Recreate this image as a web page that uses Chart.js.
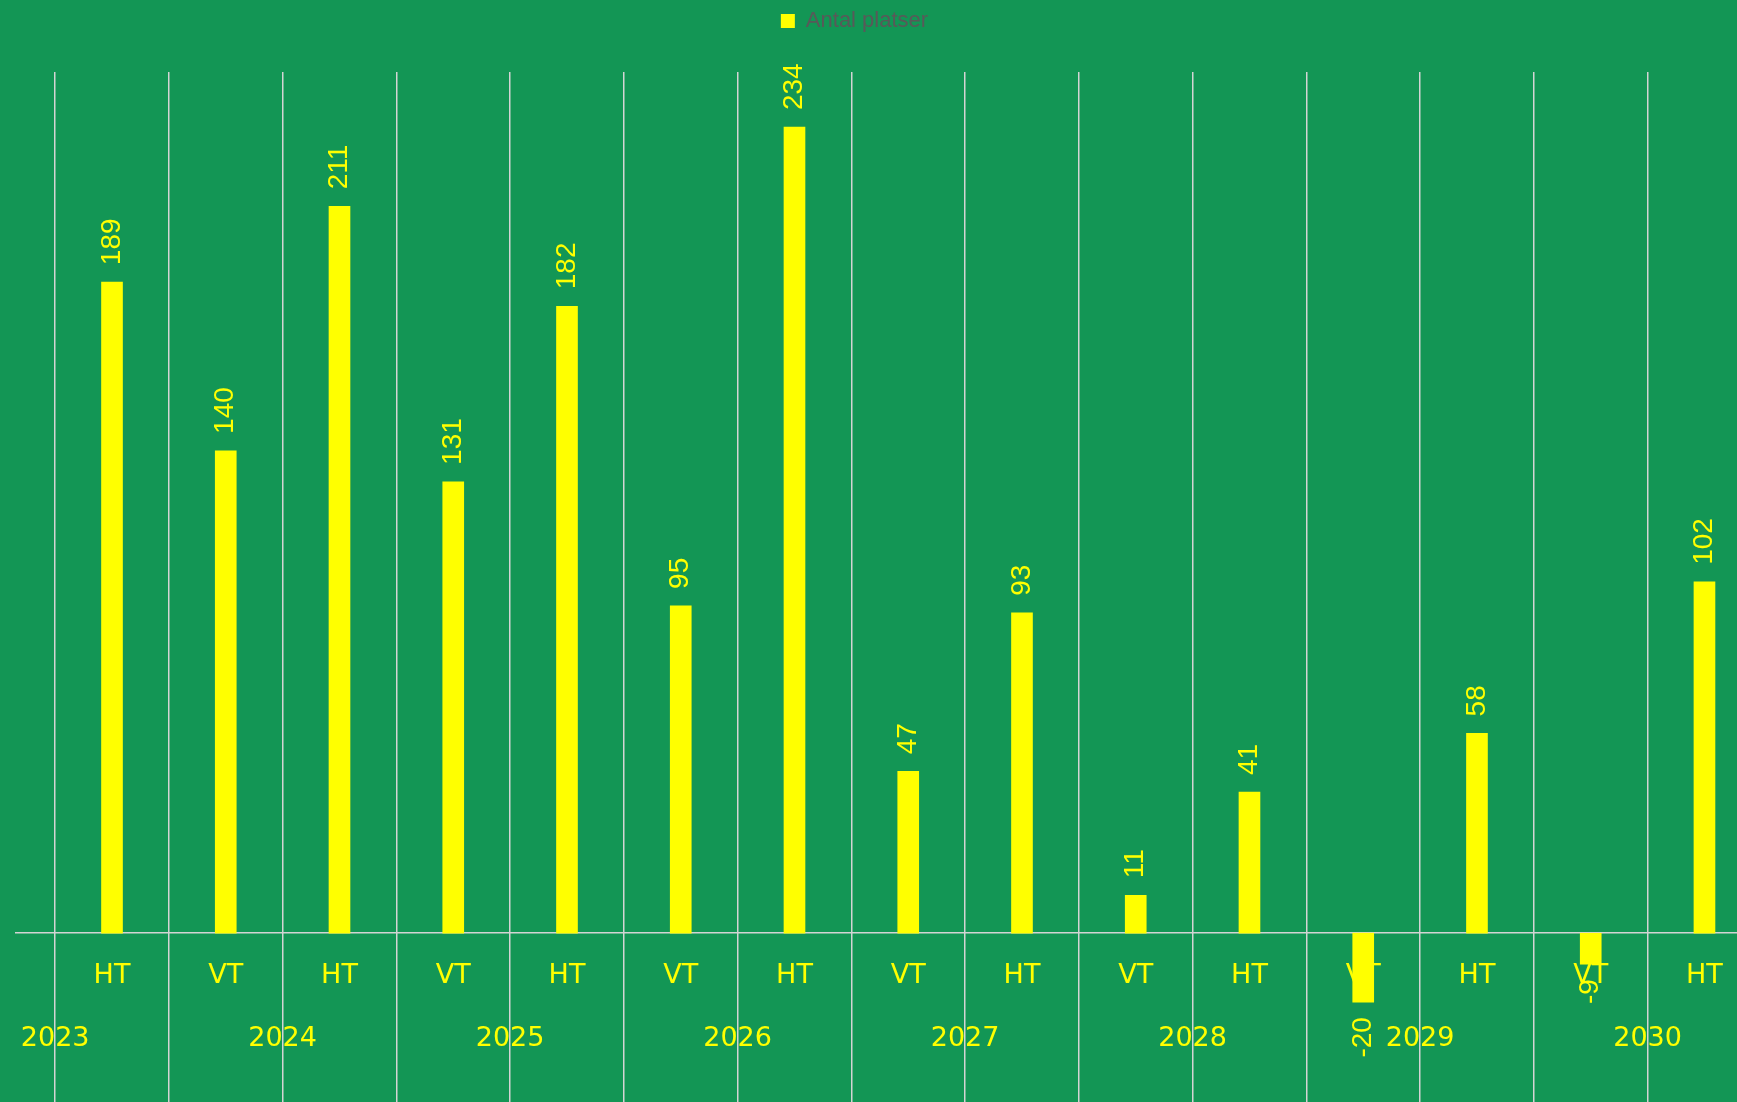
<!DOCTYPE html>
<html lang="sv">
<head>
<meta charset="utf-8">
<title>Antal platser</title>
<script src="https://cdn.jsdelivr.net/npm/chart.js@4.4.1/dist/chart.umd.min.js"></script>
<style>
  html, body { margin: 0; padding: 0; background: #139655; }
  #wrap { position: relative; width: 1737px; height: 1102px; }
</style>
</head>
<body>
<div id="wrap"><canvas id="platserChart"></canvas></div>
<script>
// Data
const terminer = ["HT", "VT", "HT", "VT", "HT", "VT", "HT", "VT", "HT", "VT", "HT", "VT", "HT", "VT", "HT"];
const ar = ["2023", "2024", "2025", "2026", "2027", "2028", "2029", "2030"];
const antalPlatser = [189, 140, 211, 131, 182, 95, 234, 47, 93, 11, 41, -20, 58, -9, 102];

const GUL = "#ffff00";
const LINJE = "#d4d4d4";
const AXELFONT = { family: "'DejaVu Sans', sans-serif", size: 27 };

// x-axlarna ska inte trycka in diagramytan
function ingenPadding(s) {
  s.paddingLeft = 0;
  s.paddingRight = 0;
}

// Etiketter vid stapelns ände, roterade
const etikettPlugin = {
  id: "stapelEtiketter",
  afterLayout(chart) {
    // legenden ligger lite till vänster om mitten i originalet
    if (chart.legend) {
      chart.legend.left -= 14;
      chart.legend.right -= 14;
    }
  },
  afterDatasetsDraw(chart) {
    const ctx = chart.ctx;
    const meta = chart.getDatasetMeta(0);
    ctx.save();
    ctx.fillStyle = GUL;
    ctx.font = "28px 'Liberation Sans', Arial, sans-serif";
    ctx.textBaseline = "middle";
    meta.data.forEach((bar, i) => {
      const v = antalPlatser[i];
      ctx.save();
      ctx.translate(bar.x, v >= 0 ? bar.y - 17 : bar.y + 15);
      ctx.rotate(-Math.PI / 2);
      ctx.textAlign = v >= 0 ? "left" : "right";
      ctx.fillText(String(v), 0, 0);
      ctx.restore();
    });
    ctx.restore();
  }
};

new Chart(document.getElementById("platserChart"), {
  type: "bar",
  data: {
    datasets: [{
      label: "Antal platser",
      data: antalPlatser.map((v, i) => ({ x: i, y: v })),
      backgroundColor: GUL,
      borderWidth: 0,
      barThickness: 21
    }]
  },
  options: {
    responsive: true,
    maintainAspectRatio: false,
    animation: false,
    plugins: {
      legend: {
        position: "top",
        labels: {
          color: "#595959",
          font: { family: "'Liberation Sans', Arial, sans-serif", size: 22 },
          boxWidth: 14,
          boxHeight: 14,
          padding: 10
        }
      },
      // tomt utrymme mellan legend och diagramyta
      subtitle: { display: true, text: "", weight: 500, padding: 0, font: { size: 30, lineHeight: 1 } },
      tooltip: { enabled: false }
    },
    scales: {
      y: {
        min: -49,
        max: 250,
        ticks: { display: false },
        grid: { display: false },
        border: { display: false },
        afterFit(s) { s.width = 16; }
      },
      x: {
        type: "linear",
        position: { y: 0 },
        offset: false,
        min: -0.844,
        max: 14.286,
        afterBuildTicks(s) {
          const t = [];
          terminer.forEach((_, i) => {
            t.push({ value: i - 0.5 });
            t.push({ value: i });
          });
          s.ticks = t;
        },
        afterFit: ingenPadding,
        ticks: {
          autoSkip: false,
          maxRotation: 0,
          minRotation: 0,
          padding: 27,
          color: GUL,
          font: AXELFONT,
          callback: (value) => Number.isInteger(value) ? terminer[value] : ""
        },
        grid: {
          offset: false,
          drawTicks: false,
          lineWidth: 1.5,
          color: (c) => c.tick && Number.isInteger(c.tick.value) ? "rgba(0,0,0,0)" : LINJE
        },
        border: { display: true, color: LINJE, width: 1.5 }
      },
      xAr: {
        type: "linear",
        axis: "x",
        position: { y: 0 },
        offset: false,
        min: -0.844,
        max: 14.286,
        afterBuildTicks(s) {
          s.ticks = ar.map((_, k) => ({ value: -0.5 + 2 * k }));
        },
        afterFit: ingenPadding,
        ticks: {
          autoSkip: false,
          maxRotation: 0,
          minRotation: 0,
          padding: 90,
          color: GUL,
          font: AXELFONT,
          callback: (value, index) => ar[index]
        },
        grid: { display: false, offset: false, drawTicks: false },
        border: { display: false }
      }
    }
  },
  plugins: [etikettPlugin]
});
</script>
</body>
</html>
